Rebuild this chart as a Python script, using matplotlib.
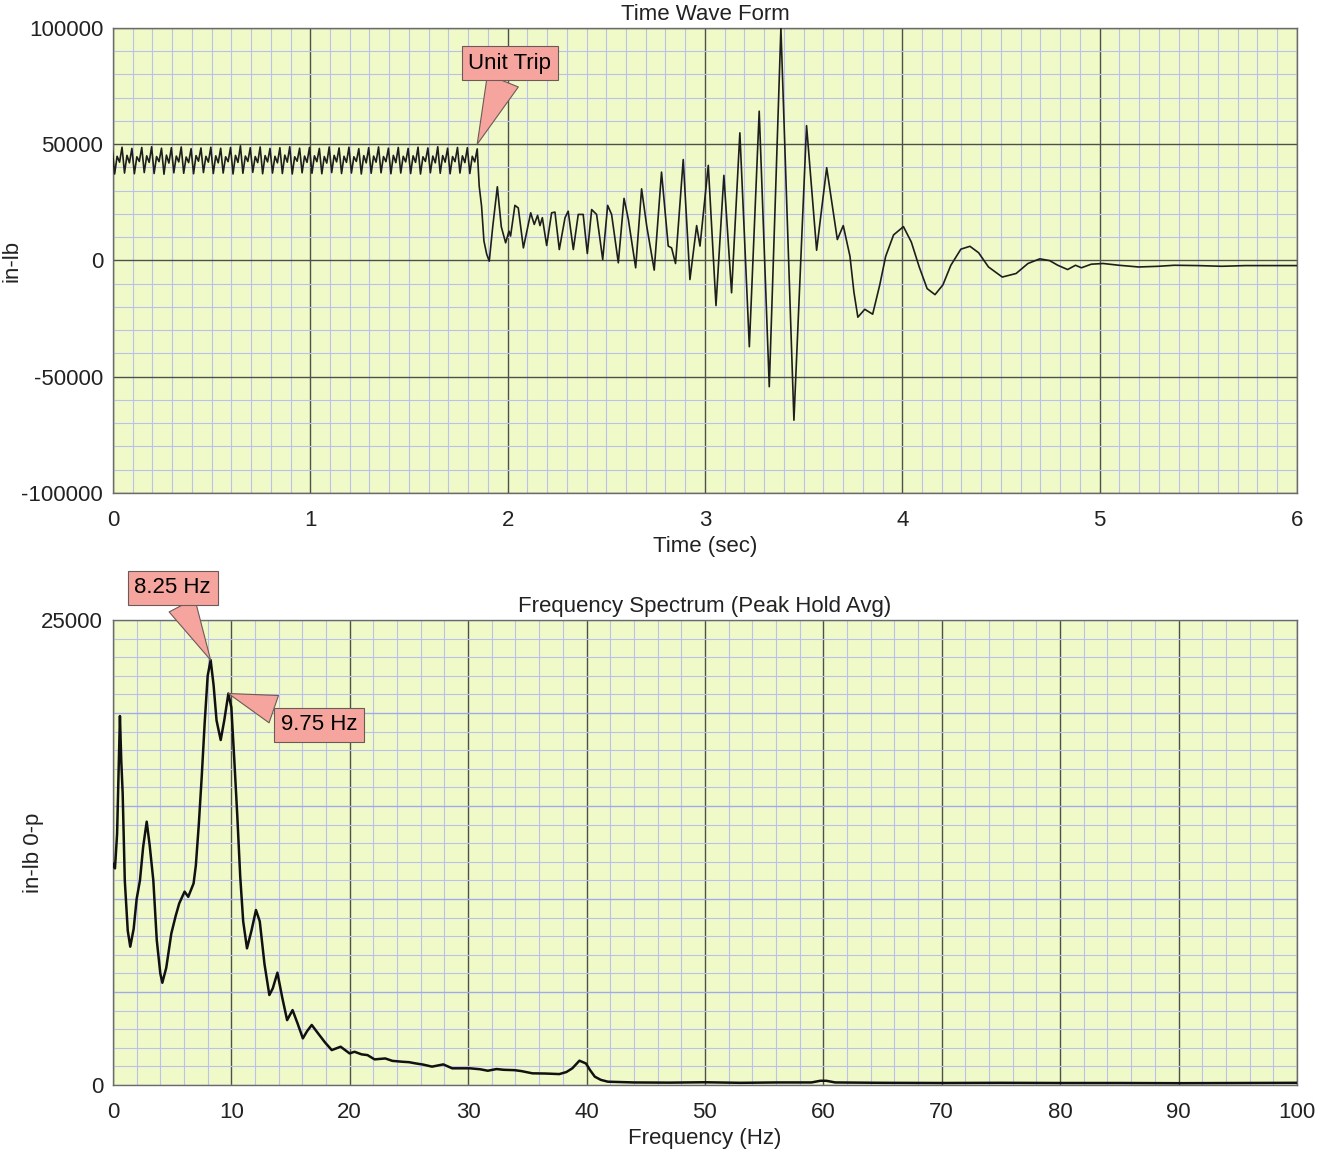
import numpy as np
import matplotlib
matplotlib.use('Agg')
import matplotlib.pyplot as plt
from matplotlib.ticker import MultipleLocator, FixedLocator, FixedFormatter

plt.rcParams['font.family'] = ['Liberation Sans', 'DejaVu Sans']
plt.rcParams['axes.unicode_minus'] = False

# ---- time waveform, before the trip: one main peak every 0.05 s, 4 samples per cycle
pre_dt = 0.0125
pre_t0 = -0.004
pre_peak = [48400, 48700, 48200, 48600, 48900, 48300, 48500, 48800, 48100, 48400,
            48700, 48300, 48600, 49300, 48500, 48800, 48200, 48500, 48900, 48300,
            48600, 48200, 48800, 48400, 48700, 48100, 48500, 48800, 48300, 48600,
            48200, 48700, 48400, 48900, 48300, 48600, 48500]
pre_trough = [37200, 37600, 37300, 37800, 37400, 37100, 37700, 37500, 37300, 37800,
              37400, 37600, 37200, 37500, 37900, 37300, 37600, 37400, 37200, 37700,
              37500, 37300, 37800, 37400, 37600, 37200, 37500, 37700, 37300, 37600,
              37400, 37200, 37700, 37500, 37300, 37600, 37400]
pre_bump = [44800, 45200, 44600, 45000, 44700, 45300, 44900, 44500, 45100, 44800,
            45000, 44600, 45200, 44900, 44700, 45100, 44800, 45300, 44600, 44900,
            45000, 44700, 45200, 44800, 44600, 45100, 44900, 44700, 45200, 44800,
            45000, 44600, 44900, 45100, 44700, 45000, 44800]
pre_dip = [42300, 42000, 42600, 42200, 42500, 41900, 42400, 42100, 42700, 42300,
           42000, 42500, 42200, 42600, 42100, 42400, 42000, 42300, 42700, 42200,
           42500, 41900, 42400, 42200, 42600, 42000, 42300, 42500, 42100, 42400,
           42200, 42600, 42000, 42300, 42500, 42100, 42400]

# ---- after the trip (s, in-lb)
post_t = [1.846, 1.856, 1.868, 1.880, 1.894, 1.907, 1.925, 1.948, 1.968, 1.990,
          2.007, 2.015, 2.037, 2.054, 2.080, 2.117, 2.135, 2.152, 2.164, 2.176,
          2.198, 2.223, 2.240, 2.262, 2.291, 2.307, 2.333, 2.358, 2.383, 2.404,
          2.426, 2.451, 2.482, 2.507, 2.527, 2.561, 2.590, 2.612, 2.649, 2.679,
          2.705, 2.743, 2.780, 2.814, 2.831, 2.851, 2.890, 2.924, 2.958, 2.975,
          3.017, 3.056, 3.096, 3.135, 3.177, 3.225, 3.275, 3.326, 3.385, 3.451,
          3.515, 3.566, 3.617, 3.671, 3.701, 3.735, 3.755, 3.775, 3.810, 3.850,
          3.886, 3.916, 3.956, 4.006, 4.046, 4.086, 4.126, 4.166, 4.206, 4.246,
          4.297, 4.343, 4.387, 4.437, 4.507, 4.577, 4.637, 4.697, 4.747, 4.788,
          4.838, 4.878, 4.908, 4.958, 5.018, 5.098, 5.198, 5.299, 5.379, 5.499,
          5.619, 5.739, 5.860, 6.000]
post_v = [48000, 32000, 23400, 8400, 2700, -300, 14800, 31700, 14500, 7600,
          12600, 10500, 23700, 22600, 5400, 20500, 15500, 19400, 15000, 18400,
          6450, 20500, 20800, 4700, 18400, 21200, 4700, 19800, 19800, 3000,
          21900, 19800, 400, 23700, 19800, -1000, 26700, 17600, -3150, 30800,
          14800, -4150, 38000, 6200, 5400, -1300, 43400, -8200, 15000, 6200,
          40900, -19400, 36600, -13900, 54900, -37100, 64200, -54300, 100000, -68700,
          58000, 4400, 39900, 9000, 15000, 1800, -13600, -24400, -21000, -23100,
          -10500, 1800, 11000, 14550, 7900, -2800, -12100, -14700, -10500, -2100,
          4860, 6100, 3320, -2800, -7130, -5600, -1300, 700, -60, -2060,
          -3900, -2060, -3140, -1600, -1300, -2060, -2800, -2500, -2060, -2200,
          -2500, -2200, -2200, -2200]

# ---- spectrum (Hz, in-lb 0-p)
spec_f = [0.0, 0.17, 0.35, 0.59, 0.7, 0.82, 1.0, 1.25, 1.46, 1.75,
          2.0, 2.28, 2.55, 2.85, 3.1, 3.41, 3.7, 4.0, 4.17, 4.5,
          4.93, 5.3, 5.6, 6.05, 6.36, 6.81, 7.0, 7.25, 7.5, 7.75,
          8.0, 8.25, 8.5, 8.75, 9.1, 9.4, 9.75, 10.0, 10.25, 10.5,
          10.75, 11.0, 11.32, 11.7, 12.08, 12.4, 12.8, 13.21, 13.5, 13.89,
          14.3, 14.71, 15.17, 15.6, 16.04, 16.4, 16.79, 17.3, 17.9, 18.48,
          19.23, 19.99, 20.4, 21.0, 21.5, 22.1, 23.0, 23.6, 24.5, 25.0,
          25.6, 26.2, 26.95, 27.9, 28.65, 30.15, 31.0, 31.66, 32.4, 33.0,
          33.92, 34.5, 35.43, 36.5, 37.7, 38.3, 38.8, 39.4, 39.95, 40.3,
          40.7, 41.2, 41.8, 44.0, 47.0, 50.0, 53.0, 56.0, 59.0, 59.75,
          60.25, 61.0, 65.0, 70.0, 75.0, 80.0, 85.0, 90.0, 95.0, 100.0]
spec_v = [11900, 11650, 13500, 19840, 17470, 15700, 11000, 8300, 7440, 8400,
          10000, 11000, 12800, 14160, 12900, 11000, 7800, 6000, 5500, 6300,
          8150, 9100, 9770, 10400, 10120, 10840, 11800, 14000, 16600, 19500,
          22000, 22850, 21500, 19600, 18550, 19600, 21050, 20300, 17470, 14500,
          11200, 8800, 7350, 8300, 9410, 8800, 6500, 4840, 5200, 6040,
          4700, 3490, 4030, 3300, 2510, 2900, 3230, 2800, 2300, 1880,
          2060, 1700, 1790, 1650, 1610, 1380, 1430, 1300, 1250, 1230,
          1160, 1100, 990, 1110, 900, 900, 850, 770, 860, 820,
          800, 750, 630, 620, 590, 700, 900, 1310, 1160, 800,
          450, 280, 180, 140, 130, 150, 120, 140, 140, 230,
          230, 140, 120, 110, 120, 110, 110, 100, 110, 120]

peak1_hz, peak1_amp = 8.25, 22850
peak2_hz, peak2_amp = 9.75, 21050

time_ticks = [0, 1, 2, 3, 4, 5, 6]
amp_ticks = [-100000, -50000, 0, 50000, 100000]
freq_ticks = [0, 10, 20, 30, 40, 50, 60, 70, 80, 90, 100]

BG = '#effac8'
MAJOR = '#4e514a'
MINOR = '#bcc1ec'
BLUE = '#a3aae8'
BOX_FC = '#f6a59e'
BOX_EC = '#6a5a58'


def style_axes(ax):
    ax.set_facecolor(BG)
    ax.set_axisbelow(True)
    for s in ax.spines.values():
        s.set_color('#6b6b6b')
        s.set_linewidth(1.0)
    ax.tick_params(which='both', length=0, labelsize=16, colors='#222222')
    ax.tick_params(axis='x', pad=12)
    ax.tick_params(axis='y', pad=7)


fig = plt.figure(figsize=(13.18, 11.51), dpi=100)

# ---------------- time waveform ----------------
ax1 = fig.add_axes([0.0857, 0.5717, 0.8983, 0.4040])
style_axes(ax1)

cycles = np.column_stack([pre_peak, pre_trough, pre_bump, pre_dip]).ravel()
t_pre = pre_t0 + pre_dt * np.arange(len(cycles))
t_all = np.concatenate([t_pre, post_t])
v_all = np.concatenate([cycles, post_v])
ax1.plot(t_all, v_all, color='#1e1e1e', lw=1.2, zorder=3)

ax1.set_xlim(0, 6)
ax1.set_ylim(-100000, 100000)
ax1.set_xticks(time_ticks)
ax1.set_yticks(amp_ticks)
ax1.set_yticklabels([str(v) for v in amp_ticks])
ax1.xaxis.set_minor_locator(MultipleLocator(0.1))
ax1.yaxis.set_minor_locator(MultipleLocator(10000))
ax1.grid(which='minor', color=MINOR, lw=0.8)
ax1.grid(which='major', color=MAJOR, lw=1.0)
ax1.set_title('Time Wave Form', fontsize=16, pad=6, color='#222222')
ax1.set_xlabel('Time (sec)', fontsize=16, labelpad=4, color='#222222')
ax1.set_ylabel('in-lb', fontsize=16, color='#222222')
ax1.yaxis.set_label_coords(-0.0765, 0.5)

ax1.annotate('Unit Trip', xy=(post_t[0], post_v[0] + 2000), xytext=(2.012, 84860),
             ha='center', va='center', fontsize=16, zorder=6, annotation_clip=False,
             bbox=dict(boxstyle='square,pad=0.3', fc=BOX_FC, ec=BOX_EC, lw=0.8),
             arrowprops=dict(arrowstyle='wedge,tail_width=1.5,shrink_factor=0.5',
                             fc=BOX_FC, ec=BOX_EC, lw=0.8, shrinkA=0, shrinkB=0))

# ---------------- spectrum ----------------
ax2 = fig.add_axes([0.0857, 0.0573, 0.8983, 0.4040])
style_axes(ax2)
ax2.plot(spec_f, spec_v, color='#111111', lw=1.8, zorder=3)

ax2.set_xlim(0, 100)
ax2.set_ylim(0, 25000)
ax2.set_xticks(freq_ticks)
ax2.xaxis.set_minor_locator(MultipleLocator(2))
ax2.yaxis.set_major_locator(FixedLocator([0, 5000, 10000, 15000, 20000, 25000]))
ax2.yaxis.set_major_formatter(FixedFormatter(['0', '', '', '', '', '25000']))
ax2.yaxis.set_minor_locator(MultipleLocator(1000))
ax2.grid(which='minor', color=MINOR, lw=0.8)
ax2.grid(which='major', axis='x', color=MAJOR, lw=1.0)
ax2.grid(which='major', axis='y', color=BLUE, lw=1.0)
ax2.set_title('Frequency Spectrum (Peak Hold Avg)', fontsize=16, pad=6, color='#222222')
ax2.set_xlabel('Frequency (Hz)', fontsize=16, labelpad=4, color='#222222')
ax2.set_ylabel('in-lb 0-p', fontsize=16, color='#222222')
ax2.yaxis.set_label_coords(-0.0585, 0.5)

for text, xy, xytext in [('8.25 Hz', (peak1_hz, peak1_amp), (5.05, 26740)),
                         ('9.75 Hz', (peak2_hz, peak2_amp), (17.41, 19370))]:
    ax2.annotate(text, xy=xy, xytext=xytext, ha='center', va='center', fontsize=16,
                 zorder=6, annotation_clip=False,
                 bbox=dict(boxstyle='square,pad=0.3', fc=BOX_FC, ec=BOX_EC, lw=0.8),
                 arrowprops=dict(arrowstyle='wedge,tail_width=1.3,shrink_factor=0.5',
                                 fc=BOX_FC, ec=BOX_EC, lw=0.8, shrinkA=0, shrinkB=0))

fig.savefig('out.png', dpi=100, facecolor='white')
